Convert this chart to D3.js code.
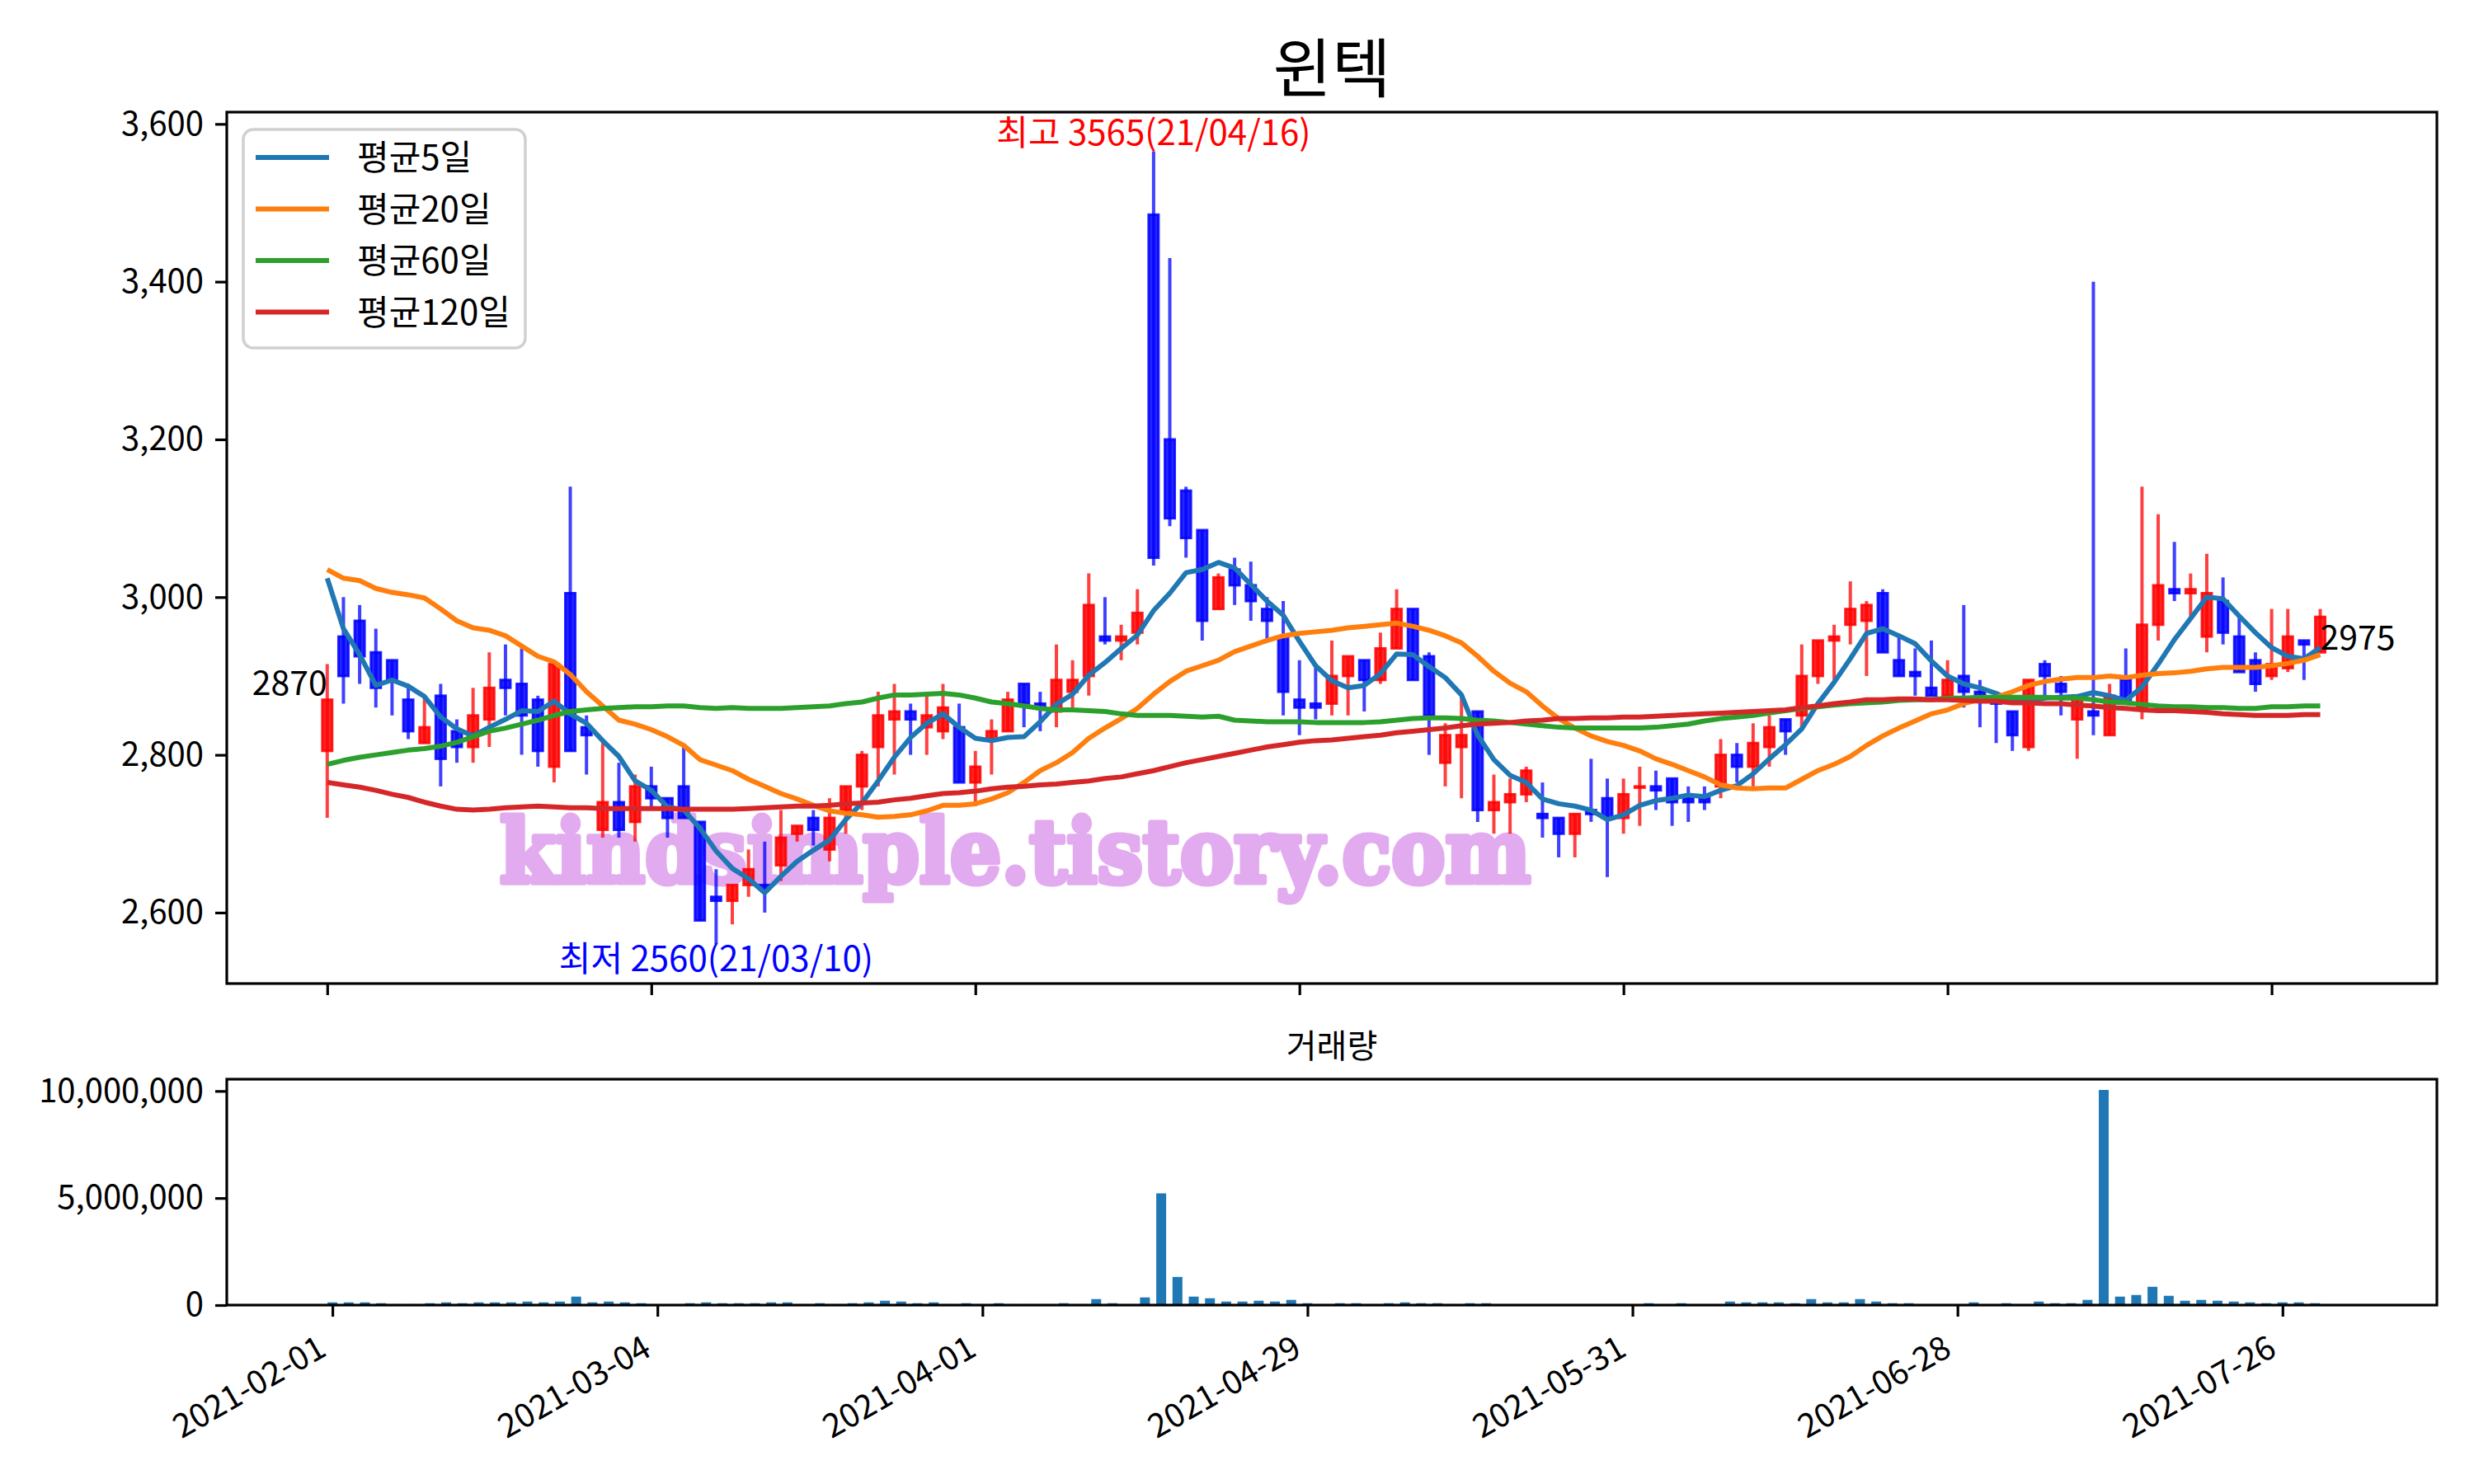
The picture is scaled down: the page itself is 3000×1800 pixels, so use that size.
<!DOCTYPE html>
<meta charset="utf-8">
<style>
body{margin:0;background:white;}
svg{display:block;background:white;font-family:'Noto Sans CJK KR','Noto Sans',sans-serif;}
.axis text{font-size:40px;fill:#000;font-family:'Noto Sans CJK KR','Noto Sans',sans-serif;}
.axis path,.axis line{stroke:#000;stroke-width:3.2px;}
</style>
<body>
<script src="https://cdn.jsdelivr.net/npm/d3@7"></script>
<script>
// 일봉 데이터 (2021-02-01 ~ 2021-07-29, 124 거래일)
var openP = [2805,2950,2970,2930,2920,2870,2815,2875,2830,2810,
  2845,2895,2890,2870,2785,3005,2835,2705,2740,2715,
  2760,2745,2760,2715,2620,2615,2635,2635,2660,2700,
  2720,2680,2730,2760,2810,2845,2855,2835,2830,2835,
  2765,2820,2830,2890,2865,2855,2880,2900,2950,2945,
  2955,3485,3200,3135,3085,2985,3035,3015,2985,2950,
  2870,2865,2865,2900,2920,2895,2935,2985,2925,2790,
  2810,2855,2730,2740,2750,2725,2720,2700,2730,2745,
  2720,2760,2760,2770,2745,2745,2760,2800,2785,2810,
  2845,2850,2900,2945,2965,2970,3005,2920,2905,2885,
  2875,2900,2880,2870,2855,2810,2915,2890,2845,2855,
  2825,2895,2860,2965,3010,3005,2950,2995,2950,2920,
  2900,2910,2945,2930];
var highP = [2915,3000,2990,2960,2920,2890,2875,2890,2845,2885,
  2930,2940,2935,2875,2915,3140,2850,2815,2790,2775,
  2785,2745,2810,2715,2655,2635,2680,2690,2730,2710,
  2730,2745,2760,2805,2880,2890,2865,2875,2890,2865,
  2805,2845,2880,2890,2880,2940,2920,3030,3000,2965,
  3010,3565,3430,3140,3085,3030,3050,3045,3000,2995,
  2920,2915,2945,2925,2920,2955,3010,2985,2930,2840,
  2875,2855,2775,2770,2785,2765,2720,2725,2795,2770,
  2770,2785,2780,2770,2760,2760,2820,2815,2840,2850,
  2845,2940,2945,2965,3020,2995,3010,2950,2935,2945,
  2920,2990,2895,2870,2855,2895,2920,2900,2870,3400,
  2890,2935,3140,3105,3070,3030,3055,3025,2975,2930,
  2985,2985,2945,2985];
var lowP = [2720,2865,2890,2860,2850,2820,2815,2760,2790,2790,
  2810,2850,2800,2785,2765,2805,2775,2695,2695,2690,
  2730,2695,2720,2590,2560,2585,2620,2600,2640,2690,
  2685,2665,2700,2730,2760,2775,2800,2800,2820,2765,
  2735,2775,2830,2835,2830,2835,2860,2875,2940,2920,
  2940,3040,3090,3050,2945,2985,2990,2970,2945,2850,
  2825,2845,2850,2850,2855,2890,2935,2895,2800,2760,
  2745,2715,2700,2700,2740,2695,2670,2670,2715,2645,
  2700,2710,2730,2710,2715,2730,2745,2765,2760,2785,
  2800,2835,2890,2895,2940,2900,2930,2900,2875,2875,
  2875,2860,2835,2815,2805,2805,2870,2850,2795,2825,
  2825,2870,2845,2945,2995,2975,2930,2940,2905,2880,
  2895,2905,2895,2930];
var closeP = [2870,2900,2925,2885,2895,2830,2835,2795,2810,2850,
  2885,2885,2850,2805,2915,2805,2825,2740,2705,2760,
  2745,2720,2720,2590,2615,2635,2655,2630,2695,2710,
  2705,2720,2760,2800,2850,2855,2845,2850,2860,2765,
  2785,2830,2870,2865,2860,2895,2895,2990,2945,2950,
  2980,3050,3100,3075,2970,3025,3015,2995,2970,2880,
  2860,2860,2900,2925,2895,2935,2985,2895,2850,2825,
  2825,2730,2740,2750,2780,2720,2700,2725,2725,2720,
  2750,2760,2755,2740,2740,2740,2800,2785,2815,2835,
  2830,2900,2945,2950,2985,2990,2930,2900,2900,2875,
  2895,2880,2875,2865,2825,2895,2900,2880,2870,2850,
  2875,2870,2965,3015,3005,3010,3005,2955,2905,2890,
  2915,2950,2940,2975];
var volume = [128e3,128e3,128e3,89e3,40e3,40e3,89e3,128e3,89e3,128e3,
  128e3,128e3,166e3,128e3,166e3,396e3,128e3,166e3,128e3,89e3,
  30e3,30e3,89e3,128e3,89e3,89e3,89e3,128e3,128e3,40e3,
  89e3,40e3,89e3,128e3,204e3,166e3,89e3,128e3,40e3,89e3,
  40e3,89e3,40e3,40e3,40e3,89e3,40e3,281e3,89e3,40e3,
  358e3,5220e3,1315e3,396e3,319e3,166e3,166e3,204e3,166e3,243e3,
  89e3,40e3,89e3,89e3,40e3,89e3,128e3,89e3,89e3,40e3,
  89e3,89e3,30e3,30e3,30e3,30e3,30e3,30e3,30e3,30e3,
  30e3,89e3,30e3,89e3,30e3,30e3,166e3,128e3,128e3,128e3,
  89e3,281e3,128e3,128e3,281e3,166e3,89e3,89e3,30e3,30e3,
  30e3,128e3,30e3,89e3,30e3,166e3,89e3,89e3,243e3,10050e3,
  396e3,472e3,856e3,434e3,204e3,243e3,204e3,166e3,128e3,89e3,
  128e3,128e3,89e3,30e3];

// 이동평균선
var ma5 = [3024,2960,2927,2888,2895,2887,2874,2848,2833,2824,
  2835,2845,2856,2855,2868,2852,2840,2818,2798,2767,
  2755,2734,2730,2707,2678,2656,2643,2625,2646,2665,
  2679,2692,2718,2739,2767,2797,2822,2840,2852,2835,
  2821,2818,2822,2823,2842,2864,2877,2901,2917,2935,
  2952,2983,3005,3031,3035,3044,3037,3016,2995,2977,
  2944,2913,2894,2885,2888,2903,2928,2927,2912,2898,
  2876,2825,2794,2774,2765,2744,2738,2735,2730,2718,
  2724,2736,2742,2745,2749,2747,2755,2761,2776,2795,
  2813,2833,2865,2892,2922,2954,2960,2951,2941,2919,
  2900,2890,2885,2878,2868,2868,2872,2873,2874,2879,
  2875,2869,2886,2915,2946,2973,3000,2998,2976,2955,
  2936,2925,2922,2936];
var ma20 = [3035,3024,3021,3011,3006,3003,2999,2985,2970,2961,
  2958,2951,2938,2925,2918,2902,2880,2862,2844,2839,
  2832,2823,2812,2794,2787,2780,2769,2760,2751,2744,
  2736,2729,2726,2724,2721,2722,2724,2729,2736,2736,
  2738,2744,2752,2765,2780,2790,2803,2821,2834,2846,
  2859,2877,2893,2906,2913,2920,2931,2938,2945,2951,
  2954,2956,2958,2961,2963,2965,2967,2963,2958,2951,
  2942,2925,2906,2891,2880,2862,2846,2834,2824,2817,
  2812,2805,2795,2788,2780,2772,2762,2758,2757,2758,
  2758,2769,2780,2788,2798,2812,2824,2834,2843,2852,
  2857,2865,2870,2873,2880,2888,2893,2896,2898,2898,
  2900,2898,2901,2903,2904,2906,2909,2911,2911,2911,
  2913,2916,2920,2927];
var ma60 = [2788,2793,2797,2800,2803,2806,2808,2811,2816,2823,
  2830,2834,2839,2844,2850,2855,2857,2859,2860,2861,
  2861,2862,2862,2860,2859,2860,2859,2859,2859,2860,
  2861,2862,2865,2867,2872,2876,2876,2877,2878,2876,
  2872,2867,2865,2862,2859,2857,2857,2856,2855,2852,
  2850,2850,2850,2849,2848,2849,2844,2843,2842,2842,
  2842,2841,2841,2841,2841,2842,2844,2846,2847,2847,
  2846,2844,2843,2841,2839,2837,2835,2834,2834,2834,
  2834,2834,2835,2837,2839,2843,2846,2848,2850,2853,
  2856,2859,2861,2863,2865,2866,2867,2869,2870,2870,
  2872,2872,2873,2873,2873,2873,2873,2872,2872,2870,
  2867,2866,2864,2862,2861,2861,2860,2860,2859,2859,
  2861,2861,2862,2862];
var ma120 = [2765,2762,2759,2755,2750,2746,2740,2735,2731,2730,
  2731,2733,2734,2735,2734,2733,2733,2732,2732,2732,
  2732,2732,2731,2731,2731,2731,2732,2733,2734,2735,
  2735,2736,2738,2739,2740,2743,2745,2748,2751,2752,
  2754,2757,2759,2760,2762,2763,2765,2767,2770,2772,
  2776,2780,2785,2790,2794,2798,2802,2806,2810,2813,
  2816,2818,2819,2821,2823,2825,2828,2830,2832,2834,
  2837,2839,2840,2841,2843,2844,2846,2846,2847,2847,
  2848,2848,2849,2850,2851,2852,2853,2854,2855,2856,
  2857,2860,2862,2865,2867,2870,2870,2871,2871,2870,
  2870,2869,2868,2868,2866,2866,2865,2865,2863,2862,
  2860,2859,2857,2856,2856,2855,2854,2852,2851,2850,
  2850,2850,2851,2851];

var maNames = ["평균5일","평균20일","평균60일","평균120일"];
var maColors = ["#1f77b4","#ff7f0e","#2ca02c","#d62728"];
var priceTicks = [2600,2800,3000,3200,3400,3600];
var volTicks = [0,5000000,10000000];
var tickIdx = [0,20,40,60,80,100,120];
var tickLabels = ["2021-02-01","2021-03-04","2021-04-01","2021-04-29","2021-05-31","2021-06-28","2021-07-26"];
var hiIdx = 51, loIdx = 24;
var hiLabel = "최고 3565(21/04/16)", loLabel = "최저 2560(21/03/10)";

var W = 3000, H = 1800;
var main = {l:275, r:2955, t:136, b:1193};
var vol = {l:275, r:2955, t:1309, b:1583};

var svg = d3.select("body").append("svg").attr("width", W).attr("height", H);

var x = d3.scaleLinear().domain([-6.2, 130.2]).range([main.l, main.r]);
var y = d3.scaleLinear().domain([2510, 3615]).range([main.b, main.t]);
var xv = d3.scaleLinear().domain([-6.5, 129.5]).range([vol.l, vol.r]);
var yv = d3.scaleLinear().domain([0, d3.max(volume) * 1.05]).range([vol.b, vol.t]);

// 제목
svg.append("text").attr("x", (main.l + main.r) / 2).attr("y", 112)
  .attr("text-anchor", "middle").style("font-size", "78px").text("윈텍");

// 워터마크
svg.append("text").attr("x", 1231).attr("y", 1070)
  .attr("text-anchor", "middle")
  .attr("textLength", 1250).attr("lengthAdjust", "spacingAndGlyphs")
  .style("font-family", "'DejaVu Serif',serif").style("font-weight", "bold")
  .style("font-size", "106px").style("fill", "#e3abef")
  .style("stroke", "#e3abef").style("stroke-width", "7px").style("stroke-linejoin", "round")
  .text("kindsimple.tistory.com");

var idx = d3.range(closeP.length);
var bw = 12;

var candles = svg.append("g");
idx.forEach(function(i) {
  var up = closeP[i] >= openP[i];
  var col = up ? "#ff0000" : "#0000ff";
  candles.append("line")
    .attr("x1", x(i)).attr("x2", x(i))
    .attr("y1", y(highP[i])).attr("y2", y(lowP[i]))
    .attr("stroke", col).attr("stroke-opacity", 0.75).attr("stroke-width", 4);
  var top = y(Math.max(openP[i], closeP[i]));
  var bot = y(Math.min(openP[i], closeP[i]));
  candles.append("rect")
    .attr("x", x(i) - bw / 2).attr("y", top)
    .attr("width", bw).attr("height", Math.max(bot - top, 1.5))
    .attr("fill", col).attr("fill-opacity", 0.85)
    .attr("stroke", col).attr("stroke-opacity", 0.85).attr("stroke-width", 3);
});

var line = d3.line().x(function(d, i) { return x(i); }).y(function(d) { return y(d); });
[ma5, ma20, ma60, ma120].forEach(function(arr, k) {
  svg.append("path").datum(arr).attr("d", line)
    .attr("fill", "none").attr("stroke", maColors[k]).attr("stroke-width", 6)
    .attr("stroke-linejoin", "round");
});

// 최고/최저/시작/끝 표시
svg.append("text").attr("x", x(hiIdx)).attr("y", y(highP[hiIdx]) - 8)
  .attr("text-anchor", "middle").style("font-size", "42px").style("fill", "red").text(hiLabel);
svg.append("text").attr("x", x(loIdx)).attr("y", y(lowP[loIdx]) + 33)
  .attr("text-anchor", "middle").style("font-size", "42px").style("fill", "blue").text(loLabel);
svg.append("text").attr("x", x(0)).attr("y", y(closeP[0]) - 6)
  .attr("text-anchor", "end").style("font-size", "41px").text(closeP[0]);
var last = closeP.length - 1;
svg.append("text").attr("x", x(last)).attr("y", y(closeP[last]) + 40)
  .attr("text-anchor", "start").style("font-size", "41px").text(closeP[last]);

// 축
svg.append("g").attr("class", "axis").attr("transform", "translate(" + main.l + ",0)")
  .call(d3.axisLeft(y).tickValues(priceTicks).tickFormat(d3.format(",")).tickSize(14).tickPadding(14))
  .call(function(g) { g.select(".domain").remove(); });
svg.append("g").attr("class", "axis").attr("transform", "translate(0," + main.b + ")")
  .call(d3.axisBottom(x).tickValues(tickIdx).tickFormat("").tickSize(14))
  .call(function(g) { g.select(".domain").remove(); });
svg.append("rect").attr("x", main.l).attr("y", main.t)
  .attr("width", main.r - main.l).attr("height", main.b - main.t)
  .attr("fill", "none").attr("stroke", "#000").attr("stroke-width", 3.2);

// 범례
var lg = svg.append("g");
lg.append("rect").attr("x", 295).attr("y", 157).attr("width", 342).attr("height", 265)
  .attr("rx", 12).attr("fill", "white").attr("fill-opacity", 0.8)
  .attr("stroke", "#d0d0d0").attr("stroke-width", 3.5);
maNames.forEach(function(n, k) {
  var yy = 191 + k * 62.5;
  lg.append("line").attr("x1", 310).attr("x2", 399).attr("y1", yy).attr("y2", yy)
    .attr("stroke", maColors[k]).attr("stroke-width", 6);
  lg.append("text").attr("x", 433).attr("y", yy + 15).style("font-size", "42px").text(n);
});

// 거래량
svg.append("text").attr("x", (vol.l + vol.r) / 2).attr("y", 1283)
  .attr("text-anchor", "middle").style("font-size", "40px").text("거래량");
svg.append("g").selectAll("rect").data(volume).join("rect")
  .attr("x", function(d, i) { return xv(i) - 6; })
  .attr("y", function(d) { return yv(d); })
  .attr("width", 12)
  .attr("height", function(d) { return vol.b - yv(d); })
  .attr("fill", "#1f77b4");
svg.append("g").attr("class", "axis").attr("transform", "translate(" + vol.l + ",0)")
  .call(d3.axisLeft(yv).tickValues(volTicks).tickFormat(d3.format(",")).tickSize(14).tickPadding(14))
  .call(function(g) { g.select(".domain").remove(); });
var xa = svg.append("g").attr("class", "axis").attr("transform", "translate(0," + vol.b + ")")
  .call(d3.axisBottom(xv).tickValues(tickIdx).tickSize(14)
    .tickFormat(function(d) { return tickLabels[tickIdx.indexOf(d)]; }))
  .call(function(g) { g.select(".domain").remove(); });
xa.selectAll("text")
  .attr("text-anchor", "end")
  .attr("dy", null)
  .attr("y", null)
  .attr("transform", "translate(-24,28) rotate(-30)")
  .attr("dominant-baseline", "hanging");
svg.append("rect").attr("x", vol.l).attr("y", vol.t)
  .attr("width", vol.r - vol.l).attr("height", vol.b - vol.t)
  .attr("fill", "none").attr("stroke", "#000").attr("stroke-width", 3.2);
</script>
</body>
